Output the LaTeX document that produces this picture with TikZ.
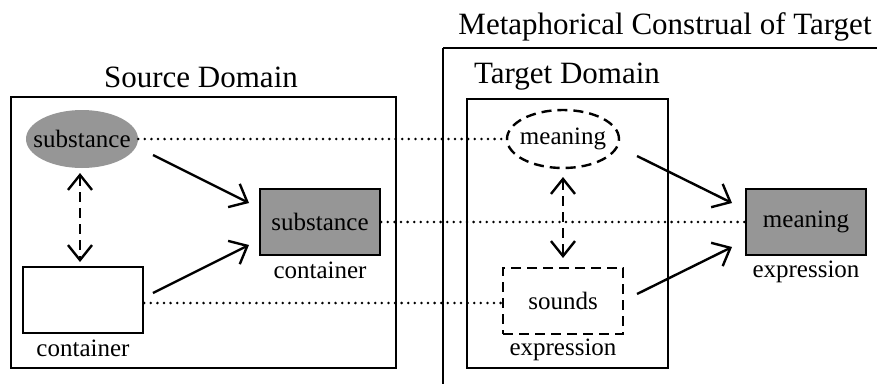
\documentclass[tikz,border=0pt]{standalone}
\usepackage{fontspec}
\setmainfont{Liberation Serif}
\usetikzlibrary{arrows.meta,shapes.geometric}
\definecolor{fillgray}{RGB}{150,150,150}
\begin{document}
\begin{tikzpicture}[x=1pt,y=-1pt,
  lbl/.style={font=\fontsize{25}{28}\selectfont, inner sep=0pt},
  head/.style={font=\fontsize{31}{34}\selectfont, inner sep=0pt},
  frame/.style={draw, line width=2.4pt},
  grayrect/.style={draw, line width=2.4pt, fill=fillgray, minimum width=120pt, minimum height=66pt, inner sep=0pt, font=\fontsize{25}{28}\selectfont},
  whiterect/.style={draw, line width=2.4pt, fill=white, minimum width=120pt, minimum height=66pt, inner sep=0pt, font=\fontsize{25}{28}\selectfont},
  dashrect/.style={whiterect, dash pattern=on 10pt off 6pt},
  ovalnode/.style={ellipse, minimum width=112pt, minimum height=58pt, inner sep=0pt, font=\fontsize{25}{28}\selectfont},
  maparrow/.style={line width=2.4pt, -{Straight Barb[length=15pt,width=26pt,line width=2.4pt]}},
  linkarrow/.style={line width=2.4pt, dash pattern=on 10pt off 6pt, {Straight Barb[length=15pt,width=24pt,line width=2.4pt]}-{Straight Barb[length=15pt,width=24pt,line width=2.4pt]}},
  corresp/.style={line width=2.8pt, dash pattern=on 0pt off 6.6pt, line cap=round}
]
\useasboundingbox (0,0) rectangle (877,383);

% frames
\draw[frame] (11,97) rectangle (396,368);
\draw[frame] (443,48) -- (900,48);
\draw[frame] (443,48) -- (443,400);
\draw[frame] (467,99) rectangle (668,368);

% headings
\node[head] (ttl) at (665,27) {Metaphorical Construal of Target};
\node[head] (src) at (201,77) {Source Domain};
\node[head] (tgt) at (567,77) {Target Domain};

% source domain
\node[ovalnode, fill=fillgray] (subst) at (82,139) {\makebox[0pt]{substance}};
\node[whiterect] (cont) at (83,300) {};
\node[lbl] (contlbl) at (83,348) {container};
\node[grayrect] (scont) at (320,222) {substance};
\node[lbl] (scontlbl) at (320,270) {container};

% target domain
\node[ovalnode, draw, line width=2.4pt, dash pattern=on 10pt off 6pt, fill=white] (mean) at (563,139) {\makebox[0pt]{meaning}};
\node[dashrect] (snd) at (563,301) {sounds};
\node[lbl] (sndlbl) at (563,350) {expression};
\node[grayrect] (mexp) at (806,222) {meaning};
\node[lbl] (mexplbl) at (806,272) {expression};

% correspondences
\draw[corresp] (subst.east) -- (mean.west);
\draw[corresp] (cont.east |- 0,303) -- (snd.west |- 0,303);
\draw[corresp] (scont.east) -- (mexp.west);

% links inside domains
\coordinate (sA) at (80,173);
\coordinate (sB) at (80,262);
\draw[linkarrow] (sA) -- (sB);
\coordinate (tA) at (563,177);
\coordinate (tB) at (563,258);
\draw[linkarrow] (tA) -- (tB);

% blending arrows
\coordinate (a1s) at (153,155);
\coordinate (a1e) at (249,203);
\coordinate (a2s) at (153,293);
\coordinate (a2e) at (249,245);
\draw[maparrow] (a1s) -- (a1e);
\draw[maparrow] (a2s) -- (a2e);
\coordinate (b1s) at (637,156);
\coordinate (b1e) at (732,203);
\coordinate (b2s) at (637,294);
\coordinate (b2e) at (732,247);
\draw[maparrow] (b1s) -- (b1e);
\draw[maparrow] (b2s) -- (b2e);
\end{tikzpicture}
\end{document}
